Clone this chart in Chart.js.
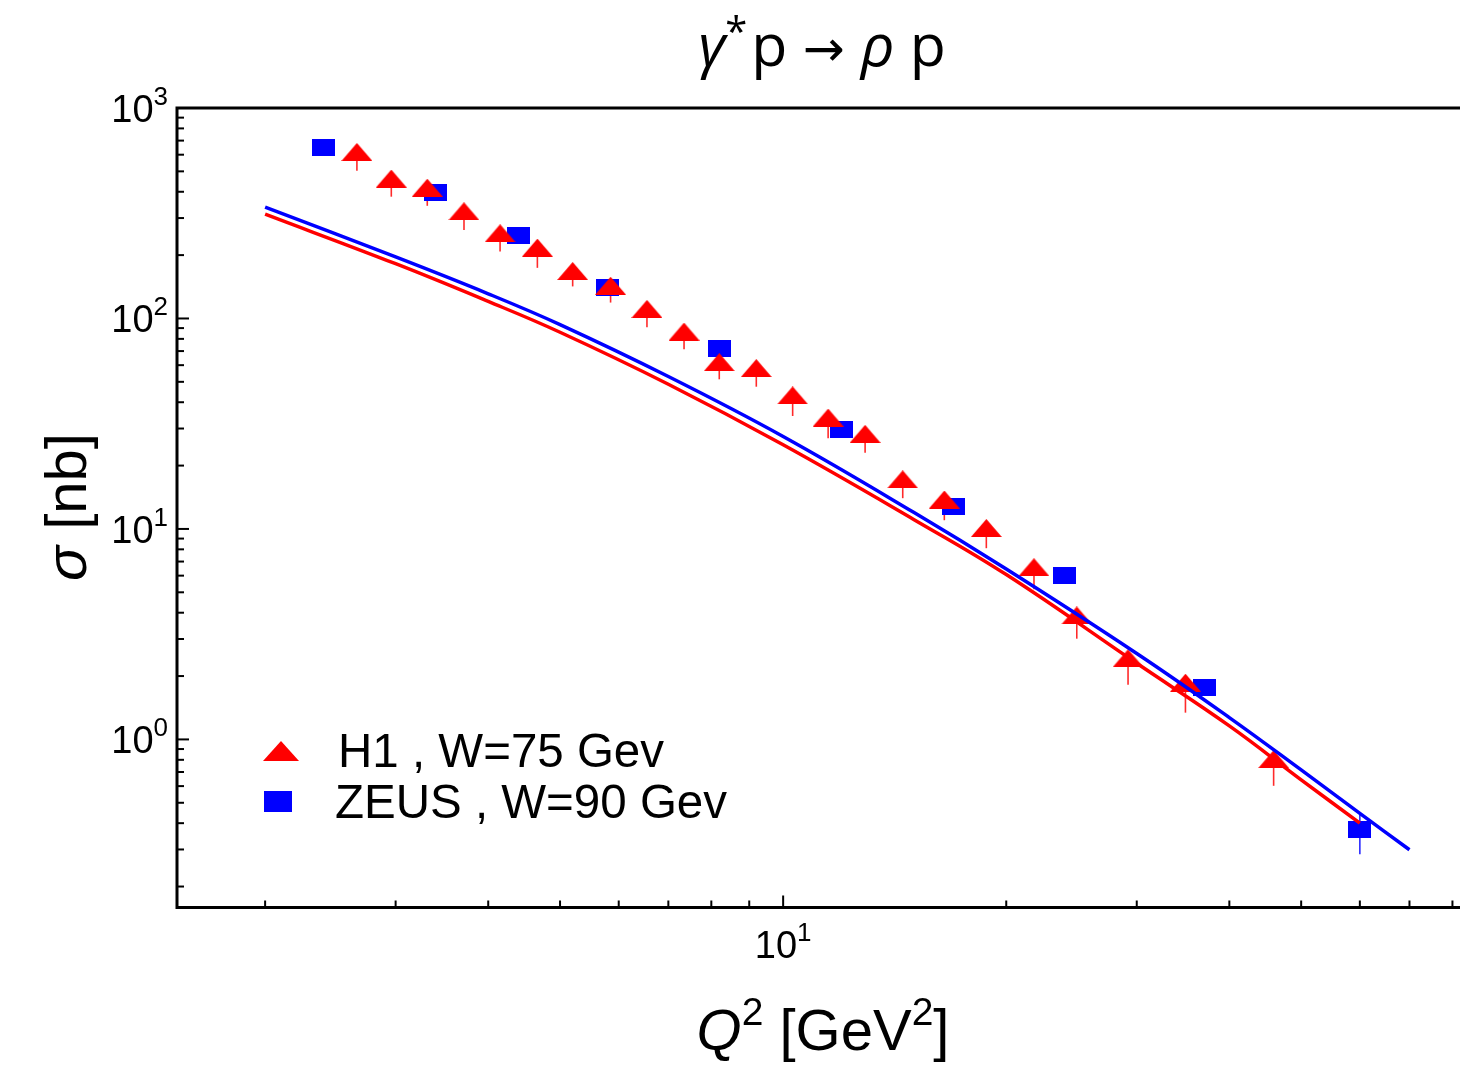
<!DOCTYPE html>
<html>
<head>
<meta charset="utf-8">
<script src="https://cdn.jsdelivr.net/npm/chart.js@4.4.1/dist/chart.umd.min.js"></script>
<style>
    body { margin: 0; background: #fff; overflow: hidden; }
    #wrap { width: 1460px; height: 1067px; }
</style>
</head>
<body>
<div id="wrap"><canvas id="chart" width="1460" height="1067"></canvas></div>
<script>
// H1 data, W = 75 GeV
var h1Q2 = [2.66, 2.96, 3.31, 3.71, 4.15, 4.66, 5.20, 5.85, 6.55, 7.35, 8.2, 9.2, 10.3, 11.5, 12.9, 14.5, 16.5, 18.8, 21.8, 24.9, 29.2, 34.9, 45.9];
var h1Sigma = [618, 462, 418, 323, 254, 217, 168, 143, 111, 86.6, 62.0, 58.1, 43.1, 33.8, 28.3, 17.2, 13.8, 10.1, 6.58, 3.88, 2.43, 1.86, 0.806];
var h1Low = [504, 379, 343, 263, 208, 174, 142, 119, 90.8, 71.4, 51.4, 47.4, 34.4, 27.0, 23.0, 14.0, 11.0, 8.10, 5.17, 3.01, 1.82, 1.34, 0.602];

// ZEUS data, W = 90 GeV
var zeusQ2 = [2.4, 3.4, 4.4, 5.8, 8.2, 12, 17, 24, 37, 60];
var zeusSigma = [646, 395, 247, 140, 71.9, 29.7, 12.8, 6.03, 1.76, 0.373];
var zeusLow = [615, 378, 236, 134, 69, 28.5, 12.3, 5.8, 1.66, 0.285];
var zeusHigh = [675, 412, 258, 146, 75, 30.9, 13.3, 6.25, 1.84, 0.451];

// model curves
var curveQ2 = [2, 3, 4, 5, 7, 10, 15, 20, 30, 40, 50, 60, 70];
var blueCurve = [338, 196, 131, 93.5, 53.0, 27.5, 12.0, 6.45, 2.56, 1.27, 0.716, 0.445, 0.299];
var redCurve = [313, 182, 120.5, 86.0, 48.7, 25.1, 11.1, 6.07, 2.30, 1.16, 0.643, 0.40];

// axis ticks
var yTickExps = [0, 1, 2, 3];
var xTickExps = [1];
var minorMult = [2, 3, 4, 5, 6, 7, 8, 9];

var legendLabels = ['H1 , W=75 Gev', 'ZEUS , W=90 Gev'];

var FONT = '"Liberation Sans", Arial, sans-serif';
var TFONT = '"Open Sans", "Liberation Sans", sans-serif';

function makeTriangle(w, h, color) {
    var c = document.createElement('canvas');
    c.width = w; c.height = h;
    var g = c.getContext('2d');
    g.fillStyle = color;
    g.beginPath();
    g.moveTo(0, h);
    g.lineTo(w / 2, 0);
    g.lineTo(w, h);
    g.closePath();
    g.fill();
    return c;
}

function makeRect(w, h, color) {
    var c = document.createElement('canvas');
    c.width = w; c.height = h;
    var g = c.getContext('2d');
    g.fillStyle = color;
    g.fillRect(0, 0, w, h);
    return c;
}

var triImg = makeTriangle(31, 18, '#ff0000');
var rectImg = makeRect(23, 17, '#0000ff');
var triLegend = makeTriangle(36, 20, '#ff0000');
var rectLegend = makeRect(28, 21, '#0000ff');

function toPoints(xs, ys) {
    return xs.slice(0, ys.length).map(function(x, i) { return { x: x, y: ys[i] }; });
}

function richWidth(ctx, parts) {
    var w = 0;
    parts.forEach(function(p) { ctx.font = p.font; w += ctx.measureText(p.t).width + (p.gap || 0); });
    return w;
}

function drawRich(ctx, parts, x, y, align) {
    var w = richWidth(ctx, parts);
    var cx = align === 'center' ? x - w / 2 : (align === 'right' ? x - w : x);
    parts.forEach(function(p) {
        ctx.font = p.font;
        ctx.fillText(p.t, cx, y + (p.dy || 0));
        cx += ctx.measureText(p.t).width + (p.gap || 0);
    });
}

var errorBars = {
    id: 'errorBars',
    beforeDatasetsDraw: function(chart) {
        var ctx = chart.ctx, xs = chart.scales.x, ys = chart.scales.y;
        ctx.save();
        ctx.lineWidth = 1.6;
        ctx.strokeStyle = '#ff2a2a';
        for (var i = 0; i < h1Q2.length; i++) {
            var px = xs.getPixelForValue(h1Q2[i]);
            ctx.beginPath();
            ctx.moveTo(px, ys.getPixelForValue(h1Sigma[i]));
            ctx.lineTo(px, ys.getPixelForValue(h1Low[i]));
            ctx.stroke();
        }
        ctx.strokeStyle = '#2a2aff';
        for (var j = 0; j < zeusQ2.length; j++) {
            var qx = xs.getPixelForValue(zeusQ2[j]);
            ctx.beginPath();
            ctx.moveTo(qx, ys.getPixelForValue(zeusHigh[j]));
            ctx.lineTo(qx, ys.getPixelForValue(zeusLow[j]));
            ctx.stroke();
        }
        ctx.restore();
    }
};

var frame = {
    id: 'frame',
    afterDraw: function(chart) {
        var ctx = chart.ctx, a = chart.chartArea;
        var xs = chart.scales.x, ys = chart.scales.y;
        ctx.save();
        ctx.fillStyle = '#000';
        ctx.strokeStyle = '#000';

        // frame (right side falls off the picture)
        ctx.lineWidth = 3;
        ctx.beginPath();
        ctx.moveTo(chart.width + 5, a.top);
        ctx.lineTo(a.left, a.top);
        ctx.lineTo(a.left, a.bottom);
        ctx.lineTo(chart.width + 5, a.bottom);
        ctx.stroke();

        // y ticks (inside)
        ctx.lineWidth = 2;
        for (var e = -1; e <= 3; e++) {
            [1].concat(minorMult).forEach(function(m) {
                var v = m * Math.pow(10, e);
                if (v < ys.min || v > ys.max) return;
                var py = ys.getPixelForValue(v);
                var len = m === 1 ? 12 : 7;
                ctx.beginPath();
                ctx.moveTo(a.left, py);
                ctx.lineTo(a.left + len, py);
                ctx.stroke();
            });
        }
        // x ticks (inside, from bottom)
        for (var ex = 0; ex <= 2; ex++) {
            [1].concat(minorMult).forEach(function(m) {
                var vx = m * Math.pow(10, ex);
                if (vx < xs.min || vx > xs.max) return;
                var px = xs.getPixelForValue(vx);
                var lx = m === 1 ? 12 : 7;
                ctx.beginPath();
                ctx.moveTo(px, a.bottom);
                ctx.lineTo(px, a.bottom - lx);
                ctx.stroke();
            });
        }

        ctx.textAlign = 'left';
        ctx.textBaseline = 'alphabetic';

        // y tick labels
        yTickExps.forEach(function(k) {
            var py = ys.getPixelForValue(Math.pow(10, k));
            drawRich(ctx, [
                { t: '10', font: '38px ' + FONT },
                { t: String(k), font: '26px ' + FONT, dy: -17 }
            ], a.left - 9, py + 14, 'right');
        });
        // x tick labels
        xTickExps.forEach(function(k) {
            var px = xs.getPixelForValue(Math.pow(10, k));
            drawRich(ctx, [
                { t: '10', font: '38px ' + FONT },
                { t: String(k), font: '26px ' + FONT, dy: -17 }
            ], px, a.bottom + 50, 'center');
        });

        // title
        drawRich(ctx, [
            { t: 'γ', font: 'italic 59px ' + TFONT },
            { t: '*', font: '40px ' + TFONT, dy: -20, gap: 4 },
            { t: 'p ', font: '59px ' + TFONT },
            { t: '\u2192', font: '50px "DejaVu Sans", sans-serif', gap: 16 },
            { t: 'ρ', font: 'italic 59px ' + TFONT },
            { t: ' p', font: '59px ' + TFONT }
        ], 822, 66, 'center');

        // x axis title
        drawRich(ctx, [
            { t: 'Q', font: 'italic 58px ' + FONT },
            { t: '2', font: '39px ' + FONT, dy: -25 },
            { t: ' [GeV', font: '58px ' + FONT },
            { t: '2', font: '39px ' + FONT, dy: -25 },
            { t: ']', font: '58px ' + FONT }
        ], 823, 1050, 'center');

        // y axis title
        ctx.save();
        ctx.translate(86, 507);
        ctx.rotate(-Math.PI / 2);
        drawRich(ctx, [
            { t: 'σ', font: 'italic 58px ' + FONT },
            { t: ' [nb]', font: '58px ' + FONT }
        ], 0, 0, 'center');
        ctx.restore();

        // legend
        ctx.drawImage(triLegend, 263, 741);
        ctx.drawImage(rectLegend, 264, 791);
        ctx.font = '47.5px ' + FONT;
        ctx.fillText(legendLabels[0], 338, 767);
        ctx.fillText(legendLabels[1], 335, 818);

        ctx.restore();
    }
};

new Chart(document.getElementById('chart'), {
    type: 'scatter',
    data: {
        datasets: [{
            label: 'H1',
            data: toPoints(h1Q2, h1Sigma),
            pointStyle: triImg,
            pointRadius: 10,
            order: 2
        }, {
            label: 'ZEUS',
            data: toPoints(zeusQ2, zeusSigma),
            pointStyle: rectImg,
            pointRadius: 10,
            order: 2
        }, {
            type: 'line',
            label: 'model W=90',
            data: toPoints(curveQ2, blueCurve),
            borderColor: '#0000ff',
            borderWidth: 3.5,
            pointRadius: 0,
            tension: 0.4,
            fill: false,
            order: 1
        }, {
            type: 'line',
            label: 'model W=75',
            data: toPoints(curveQ2, redCurve),
            borderColor: '#ff0000',
            borderWidth: 3.5,
            pointRadius: 0,
            tension: 0.4,
            fill: false,
            order: 1
        }]
    },
    options: {
        responsive: false,
        animation: false,
        devicePixelRatio: 1,
        layout: { autoPadding: false, padding: { left: 177, top: 108, right: 0, bottom: 159.5 } },
        plugins: {
            legend: { display: false },
            tooltip: { enabled: false }
        },
        scales: {
            x: { type: 'logarithmic', min: 1.521, max: 81.9, bounds: 'data', display: false },
            y: { type: 'logarithmic', min: 0.159, max: 1000, bounds: 'data', display: false }
        }
    },
    plugins: [errorBars, frame]
});
</script>
</body>
</html>
